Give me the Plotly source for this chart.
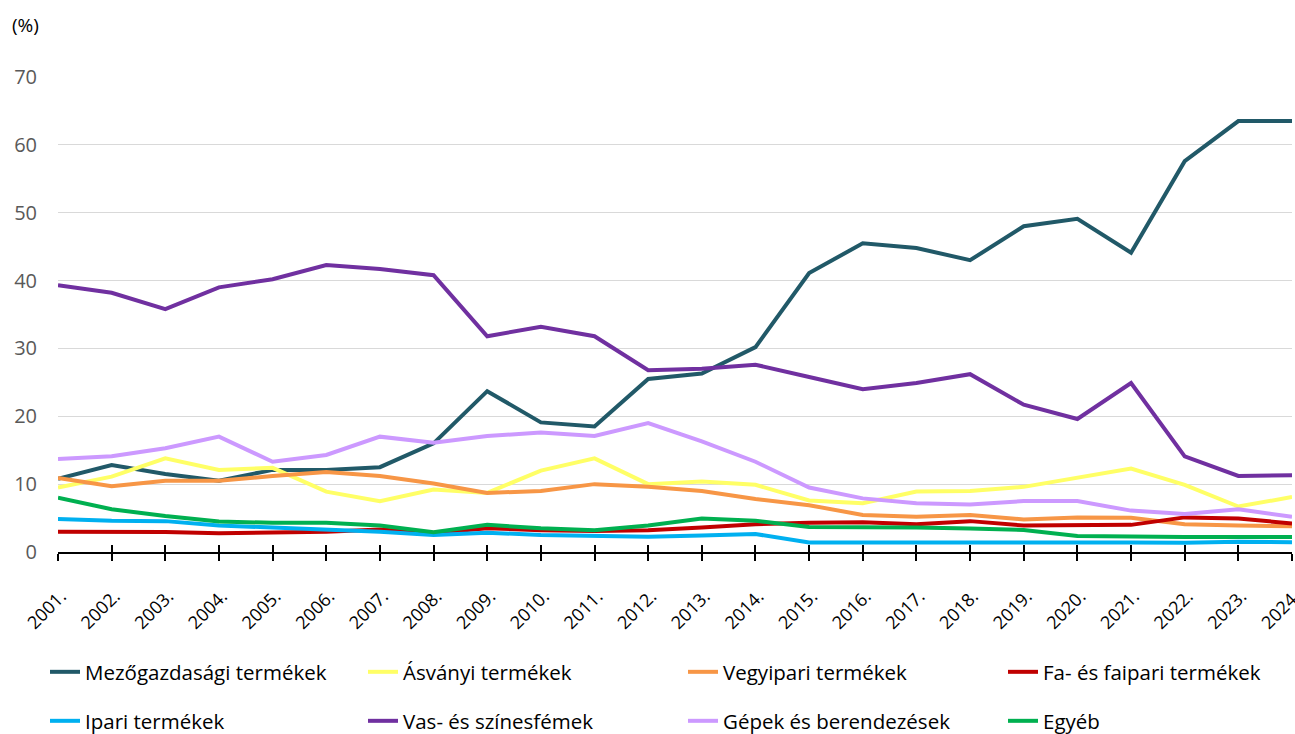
import plotly.graph_objects as go

years = ["2001.", "2002.", "2003.", "2004.", "2005.", "2006.", "2007.", "2008.", "2009.", "2010.", "2011.", "2012.",
         "2013.", "2014.", "2015.", "2016.", "2017.", "2018.", "2019.", "2020.", "2021.", "2022.", "2023.", "2024."]

mezogazdasagi = [10.8, 12.8, 11.5, 10.5, 12.1, 12.1, 12.5, 16.0, 23.7, 19.1, 18.5, 25.5,
                 26.3, 30.2, 41.1, 45.5, 44.8, 43.0, 48.0, 49.1, 44.1, 57.6, 63.5, 63.5]
asvanyi = [9.5, 11.1, 13.8, 12.1, 12.4, 8.9, 7.5, 9.2, 8.7, 12.0, 13.8, 10.0,
           10.4, 9.9, 7.6, 7.2, 8.9, 9.0, 9.6, 11.0, 12.3, 9.9, 6.7, 8.1]
vegyipari = [10.9, 9.7, 10.5, 10.5, 11.2, 11.8, 11.2, 10.1, 8.7, 9.0, 10.0, 9.6,
             9.0, 7.8, 6.9, 5.45, 5.2, 5.45, 4.8, 5.1, 5.05, 4.1, 3.9, 3.8]
fa = [3.0, 3.0, 2.95, 2.75, 2.85, 3.0, 3.3, 2.8, 3.5, 3.2, 3.1, 3.2,
      3.6, 4.1, 4.3, 4.4, 4.1, 4.55, 3.9, 3.9, 4.0, 5.1, 4.95, 4.2]
ipari = [4.85, 4.6, 4.55, 3.9, 3.6, 3.35, 3.0, 2.5, 2.85, 2.5, 2.35, 2.25,
         2.45, 2.65, 1.4, 1.4, 1.45, 1.5, 1.5, 1.45, 1.4, 1.35, 1.5, 1.45]
vas = [39.3, 38.2, 35.8, 39.0, 40.2, 42.3, 41.7, 40.8, 31.8, 33.2, 31.8, 26.8,
       27.0, 27.6, 25.8, 24.0, 24.9, 26.2, 21.7, 19.6, 24.9, 14.1, 11.2, 11.3]
gepek = [13.7, 14.1, 15.3, 17.0, 13.3, 14.3, 17.0, 16.1, 17.1, 17.6, 17.1, 19.0,
         16.3, 13.3, 9.5, 7.9, 7.2, 7.0, 7.5, 7.5, 6.1, 5.6, 6.3, 5.2]
egyeb = [8.0, 6.3, 5.3, 4.5, 4.3, 4.3, 3.9, 2.9, 4.0, 3.5, 3.2, 3.9,
         4.95, 4.6, 3.7, 3.7, 3.6, 3.45, 3.25, 2.35, 2.25, 2.2, 2.2, 2.2]

series = [
    ("Mezőgazdasági termékek", mezogazdasagi, "#215968"),
    ("Ásványi termékek", asvanyi, "#FFFF66"),
    ("Vegyipari termékek", vegyipari, "#F79646"),
    ("Fa- és faipari termékek", fa, "#C00000"),
    ("Ipari termékek", ipari, "#00B0F0"),
    ("Vas- és színesfémek", vas, "#7030A0"),
    ("Gépek és berendezések", gepek, "#CC99FF"),
    ("Egyéb", egyeb, "#00B050"),
]

FONT = "Open Sans"
L, T, PW, PH = 58, 77, 1234, 475
col_text_px = [85, 403, 723, 1043]
row_center_px = [672, 721]
TEXT_OFFSET = 40  # px from legend left edge to text start

fig = go.Figure()
layout_legends = {}
for i, (name, vals, color) in enumerate(series):
    key = "legend" if i == 0 else f"legend{i + 1}"
    fig.add_trace(go.Scatter(x=years, y=vals, name=name, mode="lines",
                             line=dict(color=color, width=4), legend=key))
    r, c = divmod(i, 4)
    layout_legends[key] = dict(
        orientation="h",
        x=(col_text_px[c] - TEXT_OFFSET - L) / PW, xanchor="left",
        y=(T + PH - row_center_px[r]) / PH, yanchor="middle",
        font=dict(size=20.5, family=FONT, color="black"),
        bgcolor="rgba(0,0,0,0)", itemwidth=30,
    )

fig.add_trace(go.Scatter(x=years, y=[None] * len(years), xaxis="x2", showlegend=False, hoverinfo="skip"))

fig.update_layout(
    width=1295, height=734,
    margin=dict(l=L, r=1295 - L - PW, t=T, b=734 - T - PH, autoexpand=False),
    plot_bgcolor="white", paper_bgcolor="white",
    font=dict(family=FONT, color="black"),
    xaxis=dict(type="category", range=[0, len(years) - 1], showgrid=False, automargin=False,
               showline=True, linecolor="black", linewidth=1.5,
               ticks="outside", ticklen=7, tickwidth=1.5, tickcolor="black",
               tickangle=-45, ticklabelstandoff=18, ticklabelshift=3,
               tickfont=dict(size=18, color="black", family=FONT)),
    xaxis2=dict(type="category", range=[0, len(years) - 1], overlaying="x", showgrid=False,
                automargin=False, showline=False, ticks="inside", ticklen=7, tickwidth=1.5,
                tickcolor="black", showticklabels=False),
    yaxis=dict(range=[0, 70], dtick=10, showgrid=True, gridcolor="#D9D9D9", gridwidth=1,
               zeroline=False, showline=False, ticks="", automargin=False,
               tickfont=dict(size=20, color="#595959", family=FONT), ticklabelstandoff=20),
    annotations=[dict(text="(%)", xref="paper", yref="paper", x=(10 - L) / PW, y=(T + PH - 25) / PH,
                      xanchor="left", yanchor="middle", showarrow=False,
                      font=dict(size=19, color="black", family=FONT))],
    showlegend=True,
    **layout_legends,
)

fig.write_html("out.html", config={"displayModeBar": False},
               post_script="document.body.style.margin='0';document.body.style.overflow='hidden';")
